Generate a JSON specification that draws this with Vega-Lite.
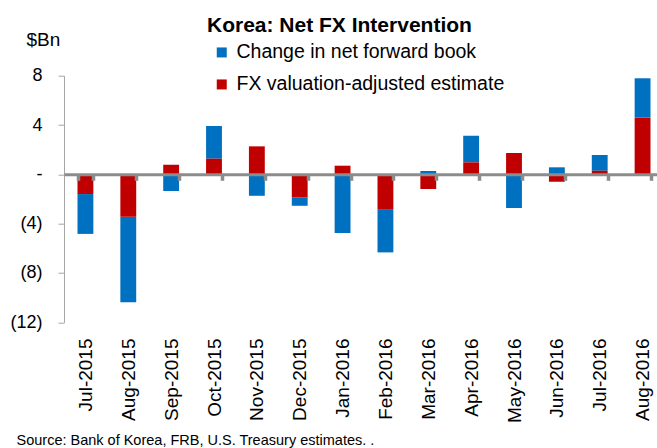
{
  "$schema": "https://vega.github.io/schema/vega-lite/v6.json",
  "autosize": {"type": "none"},
  "width": 593,
  "height": 246.6,
  "padding": {"left": 64, "top": 75.7, "right": 0, "bottom": 125.7},
  "background": "white",
  "title": {
    "text": "Korea: Net FX Intervention",
    "font": "Liberation Sans",
    "fontSize": 21,
    "fontWeight": "bold",
    "color": "#000000",
    "anchor": "start",
    "frame": "group",
    "dx": 143,
    "baseline": "alphabetic",
    "offset": -22
  },
  "data": {
    "values": [
      {"month": "Jul-2015", "series": "Change in net forward book", "value": -3.23},
      {"month": "Jul-2015", "series": "FX valuation-adjusted estimate", "value": -1.6},
      {"month": "Aug-2015", "series": "Change in net forward book", "value": -6.94},
      {"month": "Aug-2015", "series": "FX valuation-adjusted estimate", "value": -3.44},
      {"month": "Sep-2015", "series": "Change in net forward book", "value": -1.35},
      {"month": "Sep-2015", "series": "FX valuation-adjusted estimate", "value": 0.78},
      {"month": "Oct-2015", "series": "Change in net forward book", "value": 2.65},
      {"month": "Oct-2015", "series": "FX valuation-adjusted estimate", "value": 1.27},
      {"month": "Nov-2015", "series": "Change in net forward book", "value": -1.74},
      {"month": "Nov-2015", "series": "FX valuation-adjusted estimate", "value": 2.27},
      {"month": "Dec-2015", "series": "Change in net forward book", "value": -0.68},
      {"month": "Dec-2015", "series": "FX valuation-adjusted estimate", "value": -1.87},
      {"month": "Jan-2016", "series": "Change in net forward book", "value": -4.76},
      {"month": "Jan-2016", "series": "FX valuation-adjusted estimate", "value": 0.7},
      {"month": "Feb-2016", "series": "Change in net forward book", "value": -3.46},
      {"month": "Feb-2016", "series": "FX valuation-adjusted estimate", "value": -2.87},
      {"month": "Mar-2016", "series": "Change in net forward book", "value": 0.27},
      {"month": "Mar-2016", "series": "FX valuation-adjusted estimate", "value": -1.19},
      {"month": "Apr-2016", "series": "Change in net forward book", "value": 2.16},
      {"month": "Apr-2016", "series": "FX valuation-adjusted estimate", "value": 0.97},
      {"month": "May-2016", "series": "Change in net forward book", "value": -2.73},
      {"month": "May-2016", "series": "FX valuation-adjusted estimate", "value": 1.73},
      {"month": "Jun-2016", "series": "Change in net forward book", "value": 0.57},
      {"month": "Jun-2016", "series": "FX valuation-adjusted estimate", "value": -0.6},
      {"month": "Jul-2016", "series": "Change in net forward book", "value": 1.28},
      {"month": "Jul-2016", "series": "FX valuation-adjusted estimate", "value": 0.29},
      {"month": "Aug-2016", "series": "Change in net forward book", "value": 3.17},
      {"month": "Aug-2016", "series": "FX valuation-adjusted estimate", "value": 4.62}
    ]
  },
  "mark": {"type": "bar"},
  "encoding": {
    "x": {
      "field": "month",
      "type": "nominal",
      "sort": null,
      "scale": {"range": [0, 600], "paddingInner": 0.63, "paddingOuter": 0.315},
      "axis": {
        "orient": "bottom",
        "offset": -148,
        "zindex": 1,
        "domainColor": "#8C8C8C",
        "domainWidth": 3,
        "tickBand": "extent",
        "tickColor": "#8C8C8C",
        "tickWidth": 3.5,
        "tickSize": 6,
        "labelAngle": -90,
        "labelAlign": "right",
        "labelBaseline": "middle",
        "labelPadding": 157.7,
        "labelFont": "Liberation Sans",
        "labelFontSize": 19,
        "labelColor": "#000000",
        "title": "Source: Bank of Korea, FRB, U.S. Treasury estimates.  .",
        "titleFont": "Liberation Sans",
        "titleFontSize": 14.5,
        "titleFontWeight": "normal",
        "titleColor": "#000000",
        "titleAnchor": null,
        "titleAlign": "left",
        "titleBaseline": "alphabetic",
        "titleX": -48,
        "titleY": 270.5
      }
    },
    "y": {
      "field": "value",
      "type": "quantitative",
      "stack": "zero",
      "scale": {"domain": [-12, 8], "nice": false, "zero": false},
      "axis": {
        "values": [-12, -8, -4, 0, 4, 8],
        "grid": false,
        "domainColor": "#A6A6A6",
        "domainWidth": 1,
        "tickColor": "#A6A6A6",
        "tickWidth": 1,
        "tickSize": 6,
        "labelPadding": 16,
        "labelFont": "Liberation Sans",
        "labelFontSize": 18,
        "labelColor": "#000000",
        "labelExpr": "datum.value == 0 ? '-\u00a0\u00a0\u00a0' : datum.value < 0 ? '(' + abs(datum.value) + ')' : datum.value + '\u00a0'",
        "title": "$Bn",
        "titleAngle": 0,
        "titleFont": "Liberation Sans",
        "titleFontSize": 19,
        "titleFontWeight": "normal",
        "titleColor": "#000000",
        "titleAlign": "left",
        "titleBaseline": "alphabetic",
        "titleX": -38,
        "titleY": -29.7
      }
    },
    "color": {
      "field": "series",
      "type": "nominal",
      "scale": {
        "domain": ["Change in net forward book", "FX valuation-adjusted estimate"],
        "range": ["#0070C0", "#C00000"]
      },
      "legend": {
        "orient": "none",
        "legendX": 148,
        "legendY": -33,
        "title": null,
        "symbolType": "square",
        "symbolSize": 100,
        "symbolStrokeWidth": 0,
        "labelFont": "Liberation Sans",
        "labelFontSize": 19.5,
        "labelColor": "#000000",
        "labelOffset": 5,
        "rowPadding": 11,
        "labelLimit": 400
      }
    },
    "order": {"field": "series", "sort": "descending"}
  },
  "config": {"view": {"stroke": null}}
}
